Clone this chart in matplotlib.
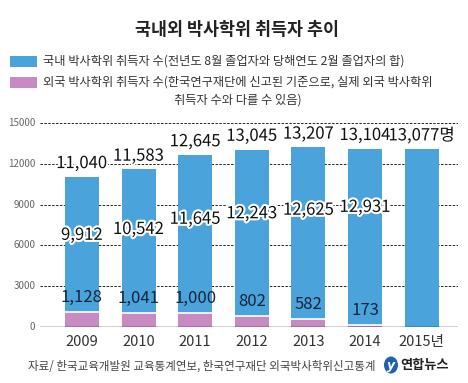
import matplotlib
matplotlib.use("Agg")
import matplotlib.pyplot as plt
import matplotlib.patheffects as pe
from matplotlib.patches import Ellipse, Rectangle
import numpy as np

plt.rcParams['font.family'] = ['Noto Sans CJK KR', 'DejaVu Sans']

# data
years = ['2009', '2010', '2011', '2012', '2013', '2014', '2015년']
domestic = [9912, 10542, 11645, 12243, 12625, 12931, 13077]
foreign = [1128, 1041, 1000, 802, 582, 173, 0]
yticks = [0, 3000, 6000, 9000, 12000, 15000]

blue = '#4aa3db'
purple = '#c78ac1'

W, H = 468, 383
fig = plt.figure(figsize=(W / 100, H / 100), dpi=100)
fig.patch.set_facecolor('white')

ax = fig.add_axes([40 / W, (H - 327) / H, 418 / W, 204 / H])
x = np.arange(len(years))
totals = [d + f for d, f in zip(domestic, foreign)]

ax.bar(x, foreign, width=0.6, color=purple, edgecolor='none', zorder=2)
ax.bar(x, domestic, width=0.6, bottom=foreign, color=blue, edgecolor='none', zorder=2)
# thin white line between the two parts
for i, f in enumerate(foreign):
    if f > 0:
        ax.plot([i - 0.3, i + 0.3], [f, f], color='white', lw=1.2, zorder=3)

ax.set_xlim(-0.74, 6.64)
ax.set_ylim(0, 15000)
for t in yticks[1:]:
    ax.axhline(t, color='#222222', lw=0.7, ls=(0, (2.5, 1.5)), zorder=1)
ax.axhline(0, color='#111111', lw=1.0, zorder=4)
for s in ax.spines.values():
    s.set_visible(False)
ax.set_xticks([])
ax.set_yticks([])

for t in yticks:
    ax.text(-0.82, t, str(t), ha='right', va='center', fontsize=7, color='#666666')
for i, y in enumerate(years):
    ax.text(i, -600, y, ha='center', va='top', fontsize=10.5, color='#333333')

halo = [pe.withStroke(linewidth=3, foreground='white')]
for i in range(len(years)):
    lbl = f'{totals[i]:,}'
    if i == len(years) - 1:
        lbl += '명'
    ax.text(i, totals[i] + 350, lbl, ha='center', va='bottom', fontsize=12,
            color='#111111', path_effects=halo, zorder=5)
    if foreign[i] > 0:
        ax.text(i, domestic[i] * 0.68, f'{domestic[i]:,}', ha='center', va='center',
                fontsize=12, color='#111111', path_effects=halo, zorder=5)
        ax.text(i, foreign[i] + 450, f'{foreign[i]:,}', ha='center', va='bottom',
                fontsize=12, color='#15253a', zorder=5)

# title and legend
fig.text(237 / W, 1 - 30 / H, '국내외 박사학위 취득자 추이', ha='center', va='center',
         fontsize=12.5, fontweight='bold', color='#222222')
fig.patches.append(Rectangle((10 / W, 1 - 67 / H), 27 / W, 11 / H, transform=fig.transFigure,
                             facecolor=blue, edgecolor='none'))
fig.patches.append(Rectangle((10 / W, 1 - 88 / H), 27 / W, 11 / H, transform=fig.transFigure,
                             facecolor=purple, edgecolor='none'))
fig.text(43 / W, 1 - 61 / H, '국내 박사학위 취득자 수(전년도 8월 졸업자와 당해연도 2월 졸업자의 합)',
         ha='left', va='center', fontsize=8.8, color='#333333')
fig.text(43 / W, 1 - 76 / H, '외국 박사학위 취득자 수(한국연구재단에 신고된 기준으로, 실제 외국 박사학위\n취득자 수와 다를 수 있음)',
         ha='left', va='top', fontsize=8.8, color='#333333', multialignment='center', linespacing=1.45)

# footer
fig.text(28 / W, 1 - 366 / H, '자료/ 한국교육개발원 교육통계연보, 한국연구재단 외국박사학위신고통계',
         ha='left', va='center', fontsize=8.3, color='#444444')
fig.patches.append(Ellipse((391 / W, 1 - 365 / H), 14 / W, 17 / H, transform=fig.transFigure,
                           facecolor='#1f5fb4', edgecolor='none'))
fig.text(391 / W, 1 - 365 / H, 'y', ha='center', va='center', fontsize=9, style='italic',
         fontweight='bold', color='white', family='DejaVu Sans')
fig.text(400 / W, 1 - 365 / H, '연합뉴스', ha='left', va='center', fontsize=9.5,
         fontweight='bold', color='#222222')

fig.savefig('out.png', dpi=100, facecolor='white')
